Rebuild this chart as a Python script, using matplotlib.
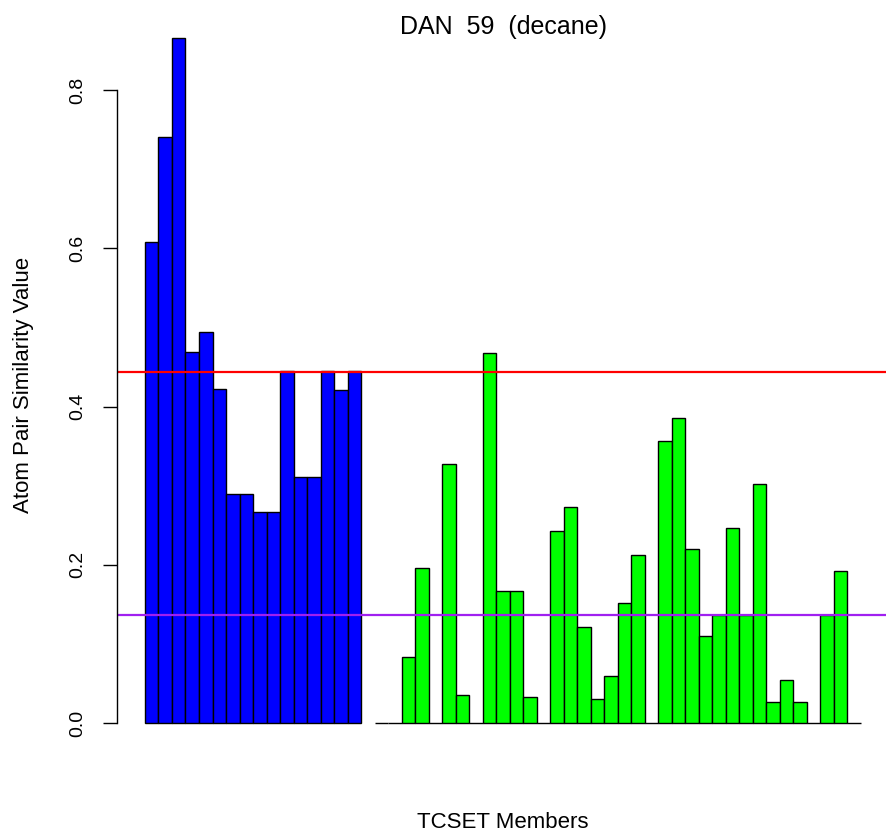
import numpy as np
import matplotlib
matplotlib.use("Agg")
import matplotlib.pyplot as plt

plt.rcParams['font.family'] = ['Liberation Sans', 'DejaVu Sans']

# similarity of each TCSET member to the query
own_class = [0.608, 0.741, 0.866, 0.469, 0.494, 0.422, 0.290, 0.290,
             0.267, 0.267, 0.445, 0.311, 0.311, 0.445, 0.421, 0.445]
other_class = [0.0, 0.0, 0.083, 0.196, 0.0, 0.328, 0.036, 0.0, 0.468,
               0.167, 0.167, 0.033, 0.0, 0.243, 0.273, 0.121, 0.030,
               0.060, 0.152, 0.213, 0.0, 0.357, 0.385, 0.220, 0.110,
               0.137, 0.247, 0.137, 0.302, 0.027, 0.055, 0.027, 0.0,
               0.137, 0.192, 0.0]
title = "DAN  59  (decane)"
y_ticks = [0.0, 0.2, 0.4, 0.6, 0.8]

W, H = 886, 834
fig = plt.figure(figsize=(W / 100, H / 100), dpi=100)
ax = fig.add_axes([117 / W, 1 - 750.7 / H, (W - 117) / W, (750.7 - 11.1) / H])

n_own = len(own_class)
x_own = np.arange(n_own)
x_other = np.arange(len(other_class)) + n_own + 1  # one empty slot between groups

ax.bar(x_own, own_class, width=1.0, align='edge', color='#0000FF',
       edgecolor='black', linewidth=1.0)
ax.bar(x_other, other_class, width=1.0, align='edge', color='#00FF00',
       edgecolor='black', linewidth=1.0)

# group means
ax.axhline(np.mean(own_class), color='#FF0000', linewidth=1.6)
ax.axhline(np.mean(other_class), color='#A020F0', linewidth=1.6)

ax.set_xlim(-2.07, 54.85)
ax.set_ylim(-0.035, 0.9)

for s in ['top', 'right', 'bottom']:
    ax.spines[s].set_visible(False)
ax.spines['left'].set_bounds(0, 0.8)
ax.spines['left'].set_linewidth(1.0)
ax.set_xticks([])
ax.set_yticks(y_ticks)
ax.set_yticklabels([f"{t:.1f}" for t in y_ticks], rotation=90, va='center',
                   fontsize=14)
ax.tick_params(axis='y', length=10, width=1.0, pad=12)

fig.text(503 / W, 1 - 27 / H, title, ha='center', va='center', fontsize=18)
fig.text(503 / W, 1 - 823 / H, "TCSET Members", ha='center', va='center',
         fontsize=16)
fig.text(24 / W, 1 - 385 / H, "Atom Pair Similarity Value", ha='center',
         va='center', rotation=90, fontsize=16)

fig.savefig("out.png", dpi=100)
